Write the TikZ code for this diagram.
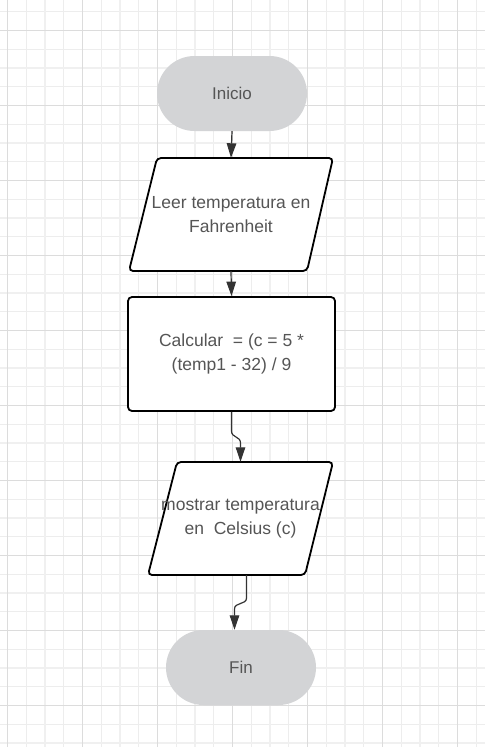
\documentclass[tikz,border=0pt]{standalone}
\usepackage{fontspec}
\setmainfont{Liberation Sans}
\usetikzlibrary{arrows.meta,calc}
\definecolor{gridminor}{RGB}{237,237,237}
\definecolor{gridmid}{RGB}{240,240,240}
\definecolor{gridmajor}{RGB}{220,220,220}
\definecolor{termfill}{RGB}{211,212,214}
\definecolor{txtcol}{RGB}{85,85,85}
\definecolor{linecol}{RGB}{51,51,51}
\tikzset{
  term/.style={shape=rectangle, rounded corners=37.5pt, fill=termfill, minimum width=150pt, minimum height=75pt, inner sep=0pt, align=center, font=\fontsize{17}{24.5}\selectfont, text=txtcol},
  txt/.style={align=center, inner sep=0pt, font=\fontsize{17.5}{24.5}\selectfont, text=txtcol},
  outline/.style={draw=black, line width=1.8pt, rounded corners=4pt},
  flow/.style={draw=linecol, line width=1.2pt, -{Triangle[length=14.5pt,width=9.5pt]}}
}
\begin{document}
\begin{tikzpicture}[x=1pt,y=-1pt]
\useasboundingbox (0,0) rectangle (485,747);
\fill[white] (0,0) rectangle (485,747);
% grid
\foreach \i in {0,...,25} \draw[gridminor, line width=1pt] (7.3+18.75*\i,0) -- (7.3+18.75*\i,747);
\foreach \j in {0,...,39} \draw[gridminor, line width=1pt] (0,11.7+18.75*\j) -- (485,11.7+18.75*\j);
\foreach \i in {2,6,...,22} \draw[gridmid, line width=2pt] (7.3+18.75*\i,0) -- (7.3+18.75*\i,747);
\foreach \j in {3,7,...,39} \draw[gridmid, line width=2pt] (0,11.7+18.75*\j) -- (485,11.7+18.75*\j);
\foreach \i in {0,4,...,24} \draw[gridmajor, line width=1pt] (7.3+18.75*\i,0) -- (7.3+18.75*\i,747);
\foreach \j in {1,5,...,37} \draw[gridmajor, line width=1pt] (0,11.7+18.75*\j) -- (485,11.7+18.75*\j);

% terminals
\node[term] (inicio) at (232,93.5) {Inicio};
\node[term] (fin) at (241,667.5) {Fin};

% input parallelogram
\draw[outline, fill=white] (157,158) -- (333,158) -- (307,271) -- (129,271) -- cycle;
\node[txt, minimum width=204pt, minimum height=113pt] (leer) at (231,214.5) {Leer temperatura en\\Fahrenheit};

% process box
\node[outline, fill=white, txt, minimum width=207pt, minimum height=114pt] (calc) at (231.5,354) {Calcular\ \ = (c = 5 *\\(temp1 - 32) / 9};

% output parallelogram
\draw[outline, fill=white] (177,462) -- (333,462) -- (305,575) -- (148,575) -- cycle;
\node[txt, minimum width=185pt, minimum height=113pt] (mostrar) at (240.5,518.5) {mostrar temperatura\\en\ \ Celsius (c)};

% connectors
\draw[flow] (inicio.south) -- (leer.north);
\draw[flow] (leer.south) -- (calc.north);
\draw[flow] (calc.south) -- (231.5,431) .. controls (231.5,438) and (240.5,436) .. (240.5,443) -- (mostrar.north);
\draw[flow] ($(mostrar.south)+(6,0)$) -- (246.5,598) .. controls (246.5,605) and (234.5,602) .. (234.5,609) -- ($(fin.north)+(-6.5,0)$);
\end{tikzpicture}
\end{document}
